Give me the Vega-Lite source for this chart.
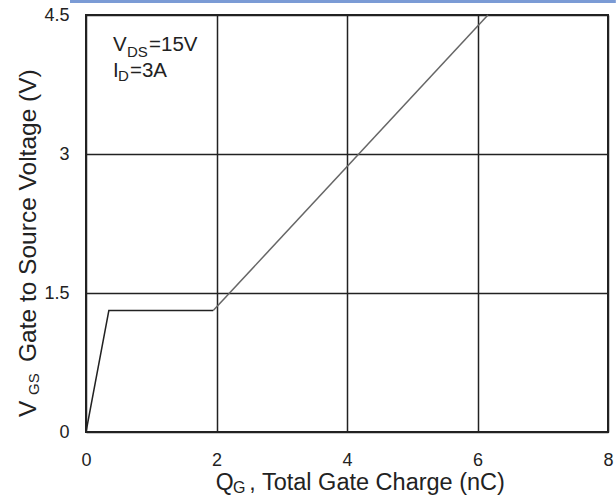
{
  "$schema": "https://vega.github.io/schema/vega-lite/v6.json",
  "width": 522,
  "height": 417,
  "autosize": "none",
  "padding": {"left": 86, "top": 15, "right": 8, "bottom": 65},
  "background": "white",
  "config": {
    "view": {"stroke": "#222", "strokeWidth": 2},
    "font": "Liberation Sans",
    "axis": {
      "labelFont": "Liberation Sans",
      "labelFontSize": 18,
      "labelColor": "#222",
      "labelFlush": false,
      "ticks": false,
      "domain": false,
      "grid": true,
      "gridColor": "#222",
      "gridWidth": 1.5,
      "gridOpacity": 1,
      "title": null
    }
  },
  "layer": [
    {
      "data": {"values": [{"x": -0.245, "x2": 8.12, "y": 4.645}]},
      "mark": {"type": "rule", "color": "#7b9bd5", "strokeWidth": 3},
      "encoding": {
        "x": {"field": "x", "type": "quantitative", "scale": {"domain": [0, 8], "nice": false},
              "axis": {"values": [0, 2, 4, 6, 8], "labelPadding": 19, "labelExpr": "'' + datum.value"}},
        "x2": {"field": "x2"},
        "y": {"field": "y", "type": "quantitative", "scale": {"domain": [0, 4.5], "nice": false},
              "axis": {"values": [0, 1.5, 3, 4.5], "labelPadding": 17, "labelExpr": "'' + datum.value"}}
      }
    },
    {
      "data": {"values": [
        {"q": 0, "v": 0, "seg": "a"},
        {"q": 0.35, "v": 1.31, "seg": "a"},
        {"q": 1.95, "v": 1.31, "seg": "a"},
        {"q": 1.95, "v": 1.31, "seg": "b"},
        {"q": 6.16, "v": 4.5, "seg": "b"}
      ]},
      "mark": {"type": "line", "strokeWidth": 1.5},
      "encoding": {
        "x": {"field": "q", "type": "quantitative"},
        "y": {"field": "v", "type": "quantitative"},
        "color": {"field": "seg", "type": "nominal", "scale": {"domain": ["a", "b"], "range": ["#222222", "#666666"]}, "legend": null}
      }
    },
    {
      "data": {"values": [
        {"t": "V", "x": 0.414, "y": 4.111},
        {"t": "=15V", "x": 0.966, "y": 4.111},
        {"t": "I", "x": 0.414, "y": 3.83},
        {"t": "=3A", "x": 0.674, "y": 3.83}
      ]},
      "mark": {"type": "text", "align": "left", "baseline": "alphabetic", "fontSize": 20.5, "color": "#222"},
      "encoding": {
        "x": {"field": "x", "type": "quantitative"},
        "y": {"field": "y", "type": "quantitative"},
        "text": {"field": "t"}
      }
    },
    {
      "data": {"values": [
        {"t": "DS", "x": 0.628, "y": 4.047},
        {"t": "D", "x": 0.49, "y": 3.788}
      ]},
      "mark": {"type": "text", "align": "left", "baseline": "alphabetic", "fontSize": 15, "color": "#222"},
      "encoding": {
        "x": {"field": "x", "type": "quantitative"},
        "y": {"field": "y", "type": "quantitative"},
        "text": {"field": "t"}
      }
    },
    {
      "data": {"values": [
        {"t": "Q", "x": 1.99, "y": -0.626},
        {"t": ",", "x": 2.5, "y": -0.626}
      ]},
      "mark": {"type": "text", "align": "left", "baseline": "alphabetic", "fontSize": 23, "color": "#222"},
      "encoding": {
        "x": {"field": "x", "type": "quantitative"},
        "y": {"field": "y", "type": "quantitative"},
        "text": {"field": "t"}
      }
    },
    {
      "data": {"values": [
        {"t": "G", "x": 2.253, "y": -0.658}
      ]},
      "mark": {"type": "text", "align": "left", "baseline": "alphabetic", "fontSize": 16, "color": "#222"},
      "encoding": {
        "x": {"field": "x", "type": "quantitative"},
        "y": {"field": "y", "type": "quantitative"},
        "text": {"field": "t"}
      }
    },
    {
      "data": {"values": [
        {"t": "Total Gate Charge (nC)", "x": 6.42, "y": -0.626}
      ]},
      "mark": {"type": "text", "align": "right", "baseline": "alphabetic", "fontSize": 23.5, "color": "#222"},
      "encoding": {
        "x": {"field": "x", "type": "quantitative"},
        "y": {"field": "y", "type": "quantitative"},
        "text": {"field": "t"}
      }
    },
    {
      "data": {"values": [
        {"t": "Gate to Source Voltage (V)", "x": -0.874, "y": 0.755},
        {"t": "V", "x": -0.874, "y": 0.162}
      ]},
      "mark": {"type": "text", "align": "left", "baseline": "middle", "angle": 270, "fontSize": 24.5, "color": "#222"},
      "encoding": {
        "x": {"field": "x", "type": "quantitative"},
        "y": {"field": "y", "type": "quantitative"},
        "text": {"field": "t"}
      }
    },
    {
      "data": {"values": [
        {"t": "GS", "x": -0.8, "y": 0.399}
      ]},
      "mark": {"type": "text", "align": "left", "baseline": "middle", "angle": 270, "fontSize": 15, "color": "#222"},
      "encoding": {
        "x": {"field": "x", "type": "quantitative"},
        "y": {"field": "y", "type": "quantitative"},
        "text": {"field": "t"}
      }
    }
  ]
}
